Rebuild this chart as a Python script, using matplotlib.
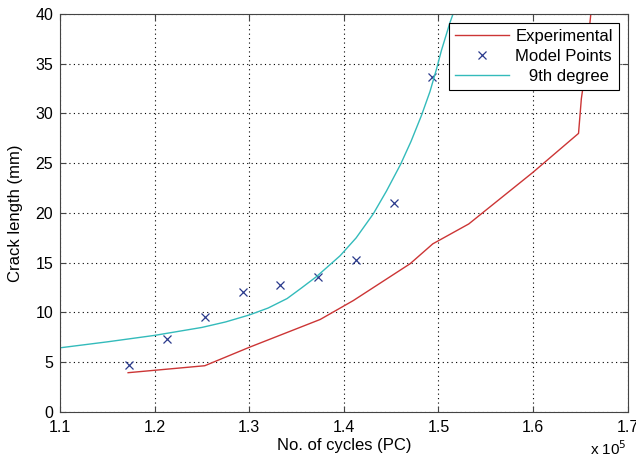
import numpy as np
import matplotlib.pyplot as plt
from matplotlib.ticker import FuncFormatter

plt.rcParams['font.family'] = ['Liberation Sans', 'DejaVu Sans']

# Experimental curve (cycles, crack length mm)
exp_cycles = [117200, 125300, 130000, 137500, 141000, 147000, 149400,
              153200, 160000, 164800, 165100, 165400, 166100, 166500]
exp_crack = [3.95, 4.65, 6.5, 9.3, 11.2, 14.9, 16.9,
             18.9, 24.1, 28.0, 31.5, 33.5, 40.0, 45.0]

# Model points
model_cycles = [117300, 121300, 125300, 129300, 133300, 137300, 141300, 145300, 149300]
model_crack = [4.7, 7.3, 9.5, 12.1, 12.8, 13.6, 15.3, 21.0, 33.7]

# 9th degree fit
fit_cycles = [110000, 115000, 120000, 125000, 127500, 130000, 132000, 134000,
              135500, 137100, 139600, 141300, 143100, 144500, 146000, 147100,
              148200, 149100, 149800, 150300, 151200, 151650, 152500]
fit_crack = [6.45, 7.05, 7.7, 8.5, 9.05, 9.75, 10.45, 11.4,
             12.45, 13.6, 15.7, 17.5, 19.9, 22.2, 24.9, 27.2,
             29.8, 32.2, 34.5, 36.3, 39.1, 40.3, 43.0]

fig = plt.figure(figsize=(6.36, 4.59), dpi=100)
ax = fig.add_axes([0.0943, 0.1024, 0.8927, 0.8671])

ax.plot(exp_cycles, exp_crack, color='#cc3535', lw=1.0, label='Experimental')
ax.plot(model_cycles, model_crack, 'x', color='#2a3a8c', ms=5.5, mew=0.9,
        label='Model Points')
ax.plot(fit_cycles, fit_crack, color='#33bbbb', lw=1.0, label='   9th degree')

ax.set_xlim(110000, 170000)
ax.set_ylim(0, 40)
ax.set_xticks(np.arange(110000, 170001, 10000))
ax.set_yticks(np.arange(0, 41, 5))
ax.xaxis.set_major_formatter(FuncFormatter(lambda v, p: '%.1f' % (v / 1e5)))

ax.grid(True, linestyle=(0, (1, 3)), color='black', lw=0.8)
ax.tick_params(direction='in', top=True, right=True, labelsize=11.5, length=4,
               color='#444444')
ax.tick_params(axis='x', pad=6)
ax.tick_params(axis='y', pad=5)
for s in ax.spines.values():
    s.set_color('#444444')

ax.set_xlabel('No. of cycles (PC)', fontsize=12, labelpad=2)
ax.set_ylabel('Crack length (mm)', fontsize=12, labelpad=9)
fig.text(0.985, 0.003, r'x 10$^5$', ha='right', va='bottom', fontsize=11)

leg = ax.legend(loc='upper right', fontsize=12, fancybox=False, framealpha=1,
                edgecolor='black', borderaxespad=0.55, handlelength=3.2,
                handletextpad=0.4, labelspacing=0.3, borderpad=0.35)
leg.get_frame().set_linewidth(0.8)

fig.savefig('out.png', dpi=100)
